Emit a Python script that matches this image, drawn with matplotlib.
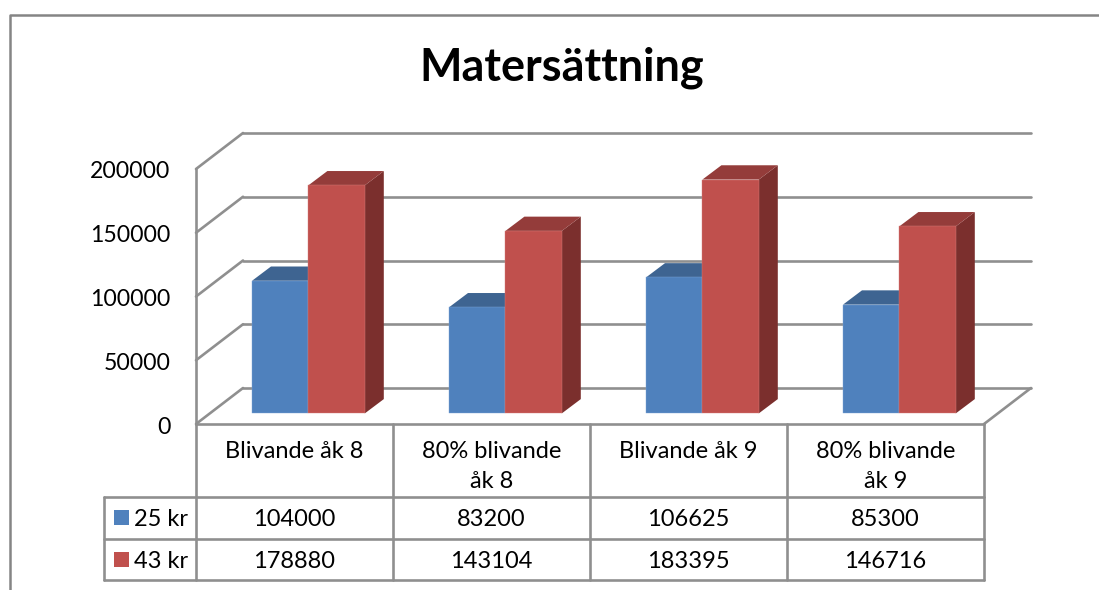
import matplotlib
matplotlib.use('Agg')
import matplotlib.pyplot as plt
from matplotlib.patches import Polygon, Rectangle
from matplotlib.transforms import ScaledTranslation

# ===== data =====
categories = ['Blivande åk 8', '80% blivande\nåk 8', 'Blivande åk 9', '80% blivande\nåk 9']
series_names = ['25 kr', '43 kr']
values_25 = [104000, 83200, 106625, 85300]
values_43 = [178880, 143104, 183395, 146716]
y_ticks = [0, 50000, 100000, 150000, 200000]

# ===== style =====
W, H = 1099, 590
GREY = '#8f8f8f'
BLUE, BLUE_TOP = '#4f81bd', '#3e6491'
RED, RED_TOP, RED_SIDE = '#c0504d', '#943c3a', '#7b2f2d'
FONT = 'Lato'
FS = 17.0

# plot area (front plane) in pixels
left, right, y0, y_top = 196, 984, 424, 169
depth_x, depth_y = 47, 36
bar_depth_x, bar_depth_y = 19, 14.3
bar_left, bar_w, bar_lift = 56, 56.4, 10.6
rows_y = [424, 497, 538.7, 580]
legend_left = 104

fig = plt.figure(figsize=(W / 100, H / 100), dpi=100)

# overlay in pixel coordinates for the frame and the table
bg = fig.add_axes([0, 0, 1, 1])
bg.set_xlim(0, W)
bg.set_ylim(H, 0)
bg.axis('off')

ax = fig.add_axes([left / W, 1 - y0 / H, (right - left) / W, (y0 - y_top) / H])
ax.patch.set_alpha(0)
ax.set_xlim(0, len(categories))
ax.set_ylim(0, y_ticks[-1])
for s in ax.spines.values():
    s.set_visible(False)
ax.set_xticks([])
ax.set_yticks(y_ticks)
ax.set_yticklabels([str(v) for v in y_ticks], fontsize=16.6, family=FONT, color='black')
ax.tick_params(axis='y', length=0, pad=18.5)
for lbl in ax.get_yticklabels():
    lbl.set_transform(lbl.get_transform() + ScaledTranslation(0, -1 / 100, fig.dpi_scale_trans))

# px -> data units
ux = len(categories) / (right - left)
uy = y_ticks[-1] / (y0 - y_top)

# walls and gridlines
line = dict(color=GREY, lw=1.9, clip_on=False, solid_capstyle='round', zorder=1)
dx, dy = depth_x * ux, depth_y * uy
for v in y_ticks:
    ax.plot([0, dx], [v, v + dy], **line)
    ax.plot([dx, len(categories) + dx], [v + dy, v + dy], **line)
ax.plot([0, 0], [0, y_ticks[-1]], **line)
ax.plot([0, len(categories)], [0, 0], **line)
ax.plot([len(categories), len(categories) + dx], [0, dy], **line)


def draw_bar(x, value, front, top, edge, side=None):
    # one 3D looking column, x is the left edge in data units
    w = bar_w * ux
    b = bar_lift * uy
    bdx, bdy = bar_depth_x * ux, bar_depth_y * uy
    if side is not None:
        ax.add_patch(Polygon([(x + w, b), (x + w + bdx, b + bdy), (x + w + bdx, value + b + bdy),
                              (x + w, value + b)], fc=side, ec='none', clip_on=False, zorder=3))
    ax.add_patch(Polygon([(x, value + b), (x + bdx, value + b + bdy), (x + w + bdx, value + b + bdy),
                          (x + w, value + b)], fc=top, ec='none', clip_on=False, zorder=3))
    ax.bar(x, value, width=w, bottom=b, align='edge', color=front, edgecolor=edge, linewidth=0.3,
           clip_on=False, zorder=4)


for i in range(len(categories)):
    x = i + bar_left * ux
    draw_bar(x, values_25[i], BLUE, BLUE_TOP, '#7ea6d8')
    draw_bar(x + bar_w * ux, values_43[i], RED, RED_TOP, '#d4807d', RED_SIDE)

# title
fig.text(562 / W, 1 - 68 / H, 'Matersättning', fontsize=32.4, fontweight='bold', family=FONT,
         ha='center', va='center', color='black')

# outer frame (only top and left show)
bg.plot([10, 10, W], [H, 15, 15], color='#858585', lw=1.8, clip_on=False)

# table
col_w = (right - left) / len(categories)
col_x = [left + i * col_w for i in range(len(categories) + 1)]
tline = dict(color=GREY, lw=1.9, solid_capstyle='round')
for x in col_x:
    bg.plot([x, x], [rows_y[0], rows_y[-1]], **tline)
bg.plot([legend_left, legend_left], [rows_y[1], rows_y[-1]], **tline)
for y in rows_y[1:]:
    bg.plot([legend_left, right], [y, y], **tline)

txt = dict(fontsize=FS, family=FONT, color='black', ha='center')
for i, cat in enumerate(categories):
    cx = col_x[i] + col_w / 2
    bg.text(cx, 441, cat, va='top', linespacing=1.55, **txt)
    bg.text(cx, 518, str(values_25[i]), va='center_baseline', **txt)
    bg.text(cx, 560, str(values_43[i]), va='center_baseline', **txt)

for name, color, r in zip(series_names, [BLUE, RED], [0, 1]):
    cy = (rows_y[r + 1] + rows_y[r + 2]) / 2
    bg.add_patch(Rectangle((114, cy - 7.5), 15, 15, fc=color, ec='none'))
    bg.text(134, cy, name, va='center_baseline', ha='left', fontsize=FS, family=FONT, color='black')

fig.savefig('out.png', dpi=100)
